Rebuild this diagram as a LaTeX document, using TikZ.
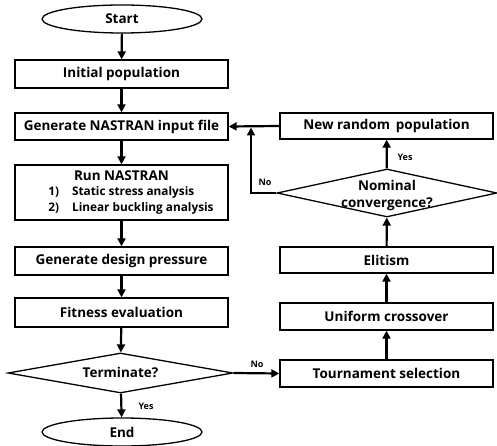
\documentclass[tikz,border=0pt]{standalone}
\usepackage{fontspec}
\setmainfont{Open Sans}
\usetikzlibrary{shapes.geometric,arrows.meta,calc}
\begin{document}
\begin{tikzpicture}[x=1pt,y=-1pt,
  box/.style={draw,line width=1.3pt,minimum width=213pt,inner sep=0pt,font=\fontsize{13.5}{16}\selectfont\bfseries},
  term/.style={draw,ellipse,line width=1.3pt,minimum width=160pt,minimum height=28pt,inner sep=0pt,font=\fontsize{13.5}{16}\selectfont\bfseries},
  dia/.style={draw,diamond,line width=1.3pt,inner sep=0pt,font=\fontsize{13.5}{16}\selectfont\bfseries},
  arr/.style={line width=2.2pt,-{Triangle[length=8pt,width=8pt]}},
  lab/.style={font=\fontsize{9}{10}\selectfont\bfseries,inner sep=0pt}]
\useasboundingbox (0,0) rectangle (497,446);
% left column
\node[term] (start) at (122,19) {Start};
\node[box,minimum height=28pt] (init) at (121.5,74) {Initial population};
\node[box,minimum height=27pt] (gen) at (121.5,126.5) {Generate NASTRAN input file};
\node[box,minimum height=55pt] (run) at (121.5,192.5) {\hspace*{19pt}\fontsize{11.8}{16}\selectfont\raisebox{-2pt}{\begin{tabular}{@{}l@{\hspace{13pt}}l@{}}\multicolumn{2}{c}{\fontsize{13.5}{16}\selectfont Run NASTRAN\hspace*{19pt}}\\[-1pt] 1) & Static stress analysis\\ 2) & Linear buckling analysis\end{tabular}}};
\node[box,minimum height=28pt] (press) at (121.5,261) {Generate design pressure};
\node[box,minimum height=29pt] (fit) at (121.5,312.5) {Fitness evaluation};
\node[dia,minimum width=225pt,minimum height=40pt] (termi) at (120.5,373) {\makebox[0pt]{\smash{\raisebox{-4.5pt}{Terminate?}}}};
\node[term] (end) at (122,432) {End};
% right column
\node[box,minimum height=26pt] (newr) at (386.5,126) {New random\, population};
\node[dia,minimum width=220pt,minimum height=48pt] (nom) at (387,193) {\makebox[0pt]{\smash{\raisebox{-15pt}{\shortstack{Nominal\\[5pt]convergence?}}}}};
\node[box,minimum height=26pt] (elit) at (386.5,260) {Elitism};
\node[box,minimum height=27pt] (unif) at (386.5,316.5) {Uniform crossover};
\node[box,minimum height=27pt] (tour) at (386.5,373.5) {Tournament selection};
% connectors
\draw[arr] (start) -- (init);
\draw[arr] (init) -- (gen);
\draw[arr] (gen) -- (run);
\draw[arr] (run) -- (press);
\draw[arr] (press) -- (fit);
\draw[arr] (fit) -- (termi);
\draw[arr] (termi) -- (end);
\draw[arr] (termi.east) -- (tour.west);
\draw[arr] (tour) -- (unif);
\draw[arr] (unif) -- (elit);
\draw[arr] (elit) -- (nom);
\draw[arr] (nom) -- (newr);
\draw[arr] (newr.west) -- (gen.east);
\coordinate (j) at (251,127.5);
\draw[arr] (nom.west) -| (j);
% labels
\node[lab] at (146,406) {Yes};
\node[lab] at (405,157) {Yes};
\node[lab] at (265,182) {No};
\node[lab] at (257,364) {No};
\end{tikzpicture}
\end{document}
